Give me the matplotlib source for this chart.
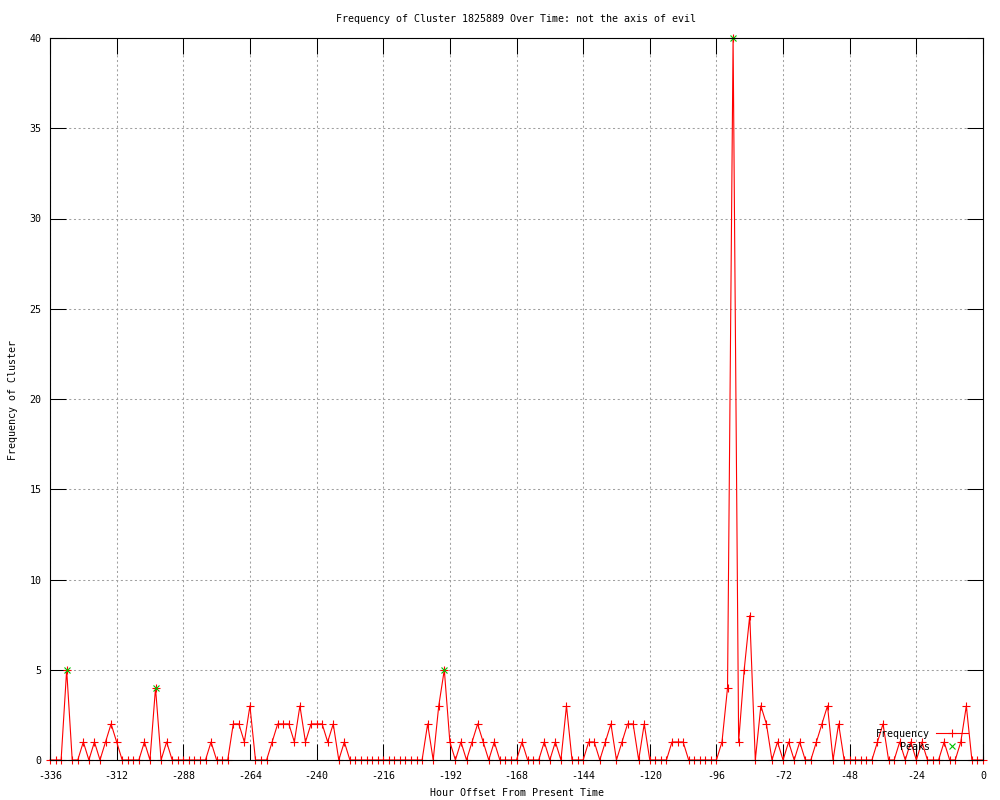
import matplotlib
matplotlib.use("Agg")
import matplotlib.pyplot as plt
from matplotlib.lines import Line2D
import numpy as np

plt.rcParams['font.family'] = ['DejaVu Sans Mono', 'DejaVu Sans']
plt.rcParams['axes.unicode_minus'] = False

# Data: hour offsets (every 2 hours) and cluster frequencies
hours = list(range(-336, 1, 2))
freq = [
    0, 0, 0, 5, 0, 0, 1, 0, 1, 0,          # -336 .. -318
    1, 2, 1, 0, 0, 0, 0, 1, 0, 4,          # -316 .. -298
    0, 1, 0, 0, 0, 0, 0, 0, 0, 1,          # -296 .. -278
    0, 0, 0, 2, 2, 1, 3, 0, 0, 0,          # -276 .. -258
    1, 2, 2, 2, 1, 3, 1, 2, 2, 2,          # -256 .. -238
    1, 2, 0, 1, 0, 0, 0, 0, 0, 0,          # -236 .. -218
    0, 0, 0, 0, 0, 0, 0, 0, 2, 0,          # -216 .. -198
    3, 5, 1, 0, 1, 0, 1, 2, 1, 0,          # -196 .. -178
    1, 0, 0, 0, 0, 1, 0, 0, 0, 1,          # -176 .. -158
    0, 1, 0, 3, 0, 0, 0, 1, 1, 0,          # -156 .. -138
    1, 2, 0, 1, 2, 2, 0, 2, 0, 0,          # -136 .. -118
    0, 0, 1, 1, 1, 0, 0, 0, 0, 0,          # -116 .. -98
    0, 1, 4, 40, 1, 5, 8, 0, 3, 2,         # -96 .. -78
    0, 1, 0, 1, 0, 1, 0, 0, 1, 2,          # -76 .. -58
    3, 0, 2, 0, 0, 0, 0, 0, 0, 1,          # -56 .. -38
    2, 0, 0, 1, 0, 1, 0, 1, 0, 0,          # -36 .. -18
    0, 1, 0, 0, 1, 3, 0, 0, 0,             # -16 .. 0
]

peak_hours = [-330, -298, -194, -90]
peak_vals = [5, 4, 5, 40]

x_ticks = list(range(-336, 1, 24))
y_ticks = list(range(0, 41, 5))

title = "Frequency of Cluster 1825889 Over Time: not the axis of evil"
xlabel = "Hour Offset From Present Time"
ylabel = "Frequency of Cluster"

fig = plt.figure(figsize=(10, 8), dpi=100)
ax = fig.add_axes([0.05, 0.05, 0.933, 0.9025])

red = '#ff0000'
green = '#00c000'

ax.plot(hours, freq, color=red, lw=0.8, marker='+', ms=5.5, mew=0.8,
        clip_on=False, zorder=3, label='Frequency')
ax.plot(peak_hours, peak_vals, ls='none', color=green, marker='x', ms=5,
        mew=0.8, clip_on=False, zorder=4, label='Peaks')

ax.set_xlim(-336, 0)
ax.set_ylim(0, 40)
ax.set_xticks(x_ticks)
ax.set_xticklabels([str(t) for t in x_ticks])
ax.set_yticks(y_ticks)
ax.set_yticklabels([str(t) for t in y_ticks])

ax.tick_params(direction='in', length=11.5, width=0.75, top=True, right=True,
               labelsize=7.2, colors='black')
ax.tick_params(axis='x', pad=8)
ax.tick_params(axis='y', pad=6)
for s in ax.spines.values():
    s.set_linewidth(0.8)
    s.set_color('black')
    s.set_zorder(5)

ax.grid(True, color='#a0a0a0', lw=0.75, ls=(0, (2, 2.5)), zorder=0)
ax.set_axisbelow(True)

fig.text(0.5165, 1 - 19 / 800, title, ha='center', va='center', fontsize=7.2)
fig.text(0.5165, 1 - 793 / 800, xlabel, ha='center', va='center', fontsize=7.2)
fig.text(13 / 1000, 1 - 400 / 800, ylabel, ha='center', va='center',
         rotation=90, fontsize=7.2)

handles = [Line2D([], [], color=red, lw=0.8, marker='+', ms=5.5, mew=0.8),
           Line2D([], [], ls='none', color=green, marker='x', ms=5, mew=0.8)]
leg = ax.legend(handles, ['Frequency', 'Peaks'], loc='lower right',
                bbox_to_anchor=(0.988, 0.006), frameon=False, markerfirst=False,
                fontsize=7.2, handlelength=3.2, handletextpad=0.6,
                labelspacing=0.3, borderaxespad=0.0)
for t in leg.get_texts():
    t.set_ha('right')

fig.savefig('out.png', dpi=100)
